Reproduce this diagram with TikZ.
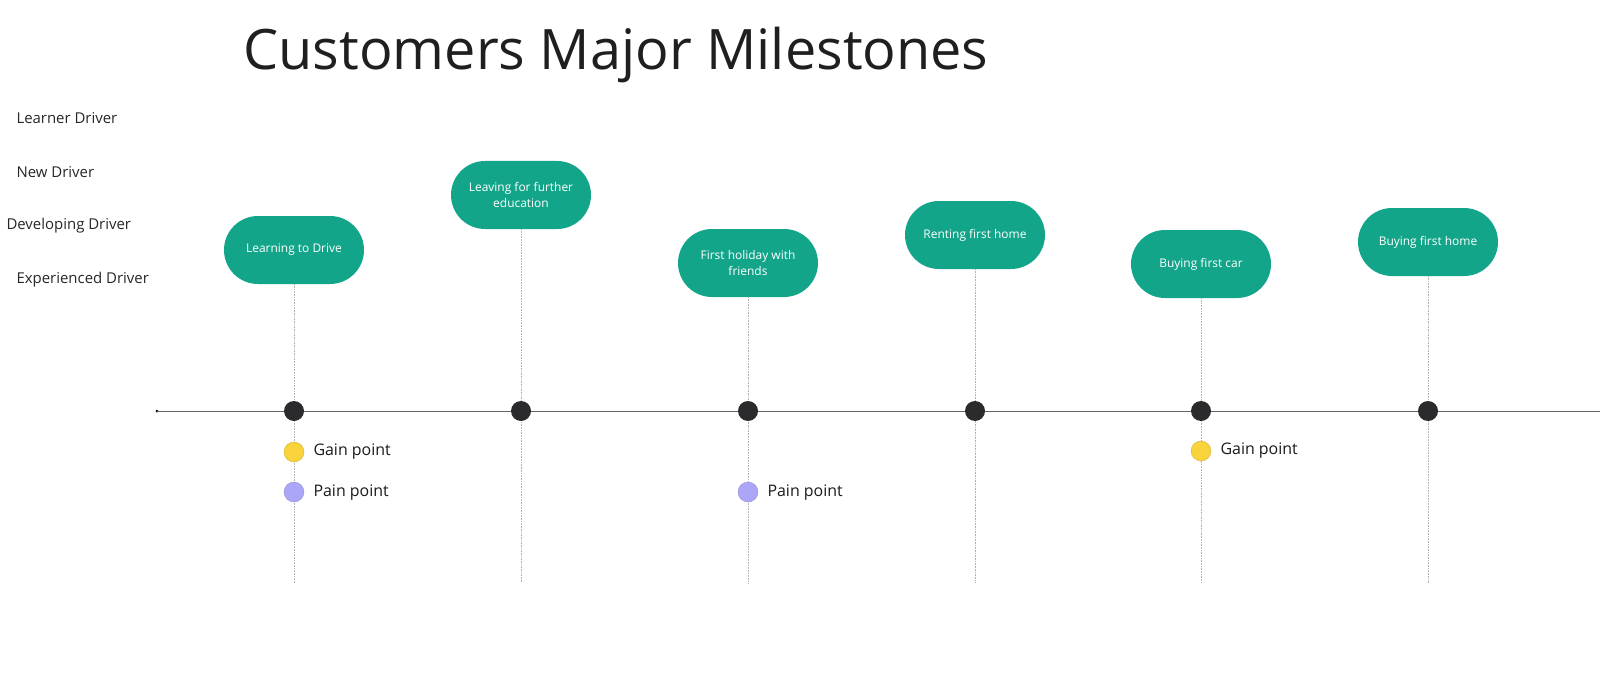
\documentclass[tikz,border=0pt]{standalone}
\usepackage{fontspec}
\setmainfont{Open Sans}
\definecolor{teal}{HTML}{12A589}
\definecolor{dot}{HTML}{2B2B2E}
\definecolor{gain}{HTML}{F9D33B}
\definecolor{pain}{HTML}{ABA6F7}
\begin{document}
\begin{tikzpicture}[x=1bp,y=-1bp,
 pill/.style={fill=teal,rounded corners=34bp,minimum width=140bp,minimum height=68bp,align=center,text=white,font=\fontsize{12}{16}\selectfont,inner sep=0pt},
 big/.style={circle,fill=dot,minimum size=20bp,inner sep=0pt},
 gp/.style={circle,fill=gain,draw=gain!80!black,line width=0.3pt,minimum size=20bp,inner sep=0pt},
 pp/.style={circle,fill=pain,draw=pain!80!black,line width=0.3pt,minimum size=20bp,inner sep=0pt},
 lbl/.style={anchor=west,font=\fontsize{16}{18}\selectfont,text=black!90},
 side/.style={anchor=west,font=\fontsize{15}{18}\selectfont,text=black!85},
 vl/.style={densely dotted,black!30,line width=0.6pt}]
\useasboundingbox (0,0) rectangle (1600,690);
\node[anchor=west,font=\fontsize{56}{66}\selectfont,text=black!88] (title) at (240,55) {Customers Major Milestones};
\node[side] (s1) at (13,118) {Learner Driver};
\node[side] (s2) at (13,172) {New Driver};
\node[side] (s3) at (3,226) {Developing Driver};
\node[side] (s4) at (13,280) {Experienced Driver};
\coordinate (L) at (157,411);
\coordinate (R) at (1600,411);
\fill[black] (L) circle (1.5bp);
\foreach \n/\x/\y/\t in {a/294/250/Learning to Drive, b/521/195/{Leaving for further\\education}, c/748/263/{First holiday with\\friends}, d/975/235/Renting first home, e/1201/264/Buying first car, f/1428/242/Buying first home}{
  \coordinate (e\n) at (\x,583);
  \node[pill] (p\n) at (\x,\y) {\t};
  \draw[vl] (p\n.south) -- (e\n);
}
\draw[black!60,line width=0.8pt] (L) -- (R);
\foreach \n/\x in {a/294,b/521,c/748,d/975,e/1201,f/1428}
  \node[big] (d\n) at (\x,411) {};
\node[gp] (g1) at (294,452) {};
\node[lbl] (g1t) at (310,452) {Gain point};
\node[pp] (q1) at (294,492) {};
\node[lbl] (q1t) at (310,493) {Pain point};
\node[pp] (q2) at (748,492) {};
\node[lbl] (q2t) at (764,493) {Pain point};
\node[gp] (g2) at (1201,451) {};
\node[lbl] (g2t) at (1217,451) {Gain point};
\end{tikzpicture}
\end{document}
